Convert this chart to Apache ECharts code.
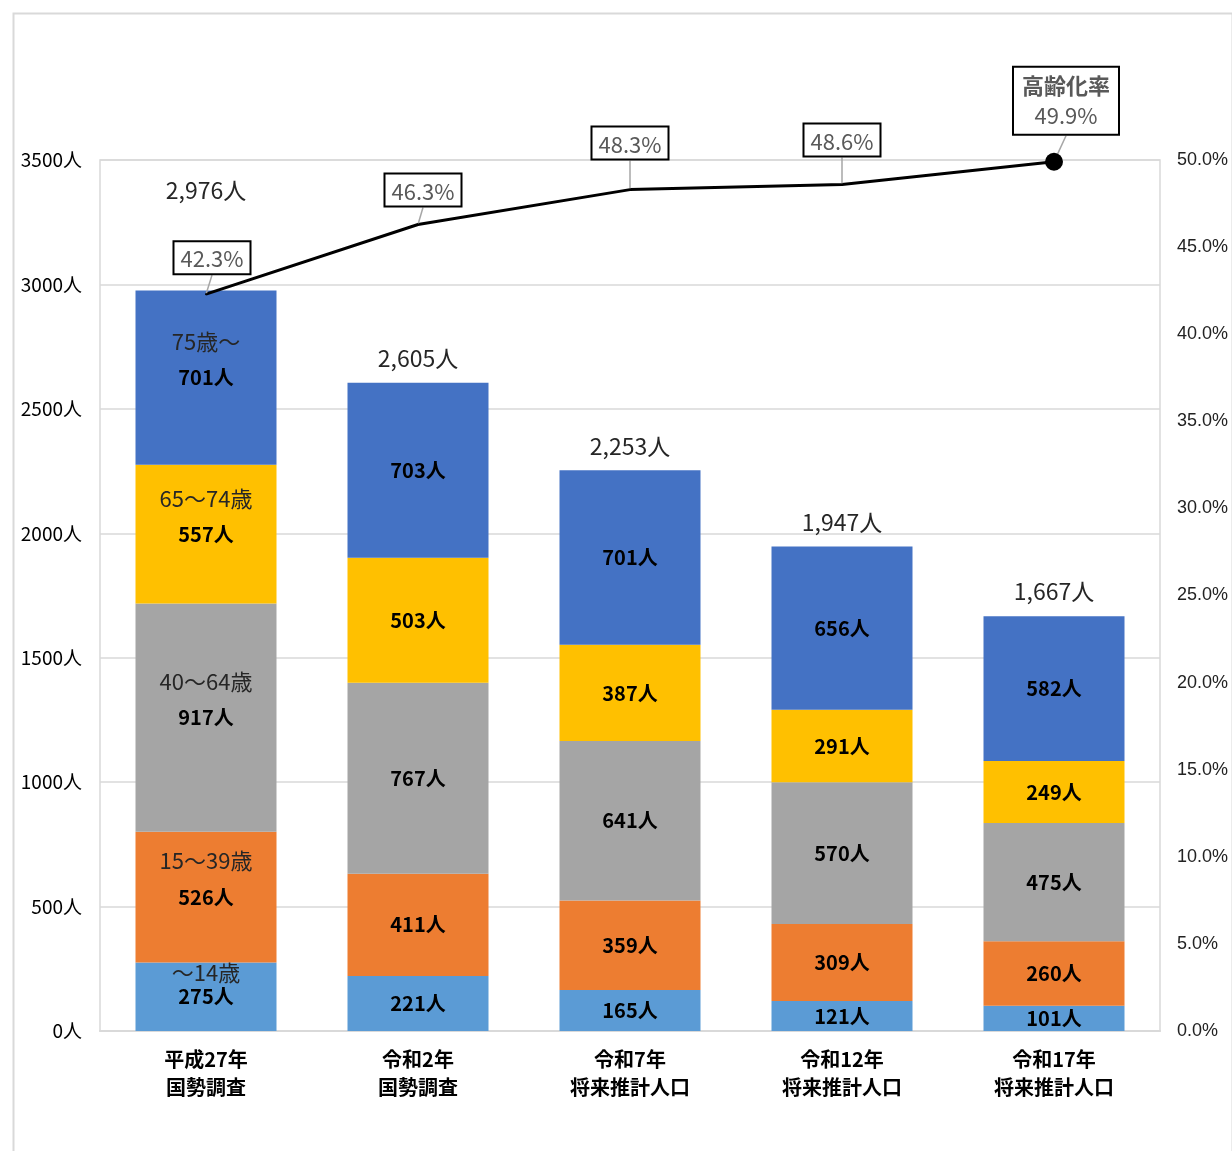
<!DOCTYPE html>
<html><head><meta charset="utf-8">
<script src="https://cdn.jsdelivr.net/npm/echarts@6/dist/echarts.min.js"></script>
<style>html,body{margin:0;padding:0;background:#fff}#c{width:1232px;height:1151px}</style>
</head><body><div id="c"></div>
<script>
const categories = ['平成27年\n国勢調査', '令和2年\n国勢調査', '令和7年\n将来推計人口', '令和12年\n将来推計人口', '令和17年\n将来推計人口'];
const ageNames = ['～14歳', '15～39歳', '40～64歳', '65～74歳', '75歳～'];
const age0_14 = [275, 221, 165, 121, 101];
const age15_39 = [526, 411, 359, 309, 260];
const age40_64 = [917, 767, 641, 570, 475];
const age65_74 = [557, 503, 387, 291, 249];
const age75 = [701, 703, 701, 656, 582];
const totals = [2976, 2605, 2253, 1947, 1667];
const agingRate = [42.3, 46.3, 48.3, 48.6, 49.9];
const leftTicks = [0, 500, 1000, 1500, 2000, 2500, 3000, 3500];

const FONT = '"Noto Sans CJK JP", "Noto Sans", sans-serif';
const colors = ['#5B9BD5', '#ED7D31', '#A5A5A5', '#FFC000', '#4472C4'];
const ageSeries = [age0_14, age15_39, age40_64, age65_74, age75];

const stackSeries = ageSeries.map((arr, si) => ({
  name: ageNames[si],
  type: 'bar',
  stack: 'pop',
  barWidth: 141,
  itemStyle: { color: colors[si] },
  data: arr.map((v, i) => {
    const item = { value: v };
    if (i === 0) {
      const tight = si === 0;
      item.label = {
        formatter: '{n|' + ageNames[si] + '}\n{v|' + v + '人}',
        offset: [0, tight ? -12 : -18],
        rich: {
          n: { fontFamily: FONT, fontSize: 22, fontWeight: 'normal', color: '#262626', lineHeight: tight ? 24 : 36 },
          v: { fontFamily: FONT, fontSize: 20, fontWeight: 'bold', color: '#000', lineHeight: tight ? 24 : 36 }
        }
      };
    }
    return item;
  }),
  label: {
    show: true,
    position: 'inside',
    fontFamily: FONT,
    fontSize: 20,
    fontWeight: 'bold',
    color: '#000',
    formatter: p => p.value + '人'
  },
  z: 2
}));

const totalSeries = {
  name: 'total',
  type: 'bar',
  barWidth: 141,
  barGap: '-100%',
  itemStyle: { color: 'rgba(0,0,0,0)' },
  silent: true,
  z: 1,
  data: totals.map((v, i) => i === 0 ? { value: v, label: { distance: 89 } } : { value: v }),
  label: {
    show: true,
    position: 'top',
    distance: 13,
    fontFamily: FONT,
    fontSize: 23,
    color: '#262626',
    formatter: p => p.value.toLocaleString('en-US') + '人'
  }
};

const shifts = [[6, -15], [5, -13], [0, -25], [0, -23], [12, -14]];
const lineSeries = {
  name: '高齢化率',
  type: 'line',
  yAxisIndex: 1,
  z: 5,
  lineStyle: { color: '#000', width: 3 },
  itemStyle: { color: '#000' },
  symbol: 'circle',
  data: agingRate.map((v, i) => {
    const last = i === agingRate.length - 1;
    const item = { value: v, symbolSize: last ? 18 : 2 };
    if (last) {
      item.label = {
        padding: [3, 8, 3, 8],
        formatter: '{b|高齢化率}\n{v|' + v.toFixed(1) + '%}',
        rich: {
          b: { fontFamily: FONT, fontSize: 22, fontWeight: 'bold', color: '#595959', lineHeight: 30 },
          v: { fontFamily: FONT, fontSize: 22, color: '#595959', lineHeight: 30 }
        }
      };
    }
    return item;
  }),
  label: {
    show: true,
    position: 'top',
    distance: 5,
    fontFamily: FONT,
    fontSize: 22,
    color: '#595959',
    backgroundColor: '#fff',
    borderColor: '#000',
    borderWidth: 2,
    padding: [6, 6, 3, 6],
    formatter: p => p.value.toFixed(1) + '%'
  },
  labelLine: { show: true, lineStyle: { color: '#a6a6a6', width: 1.5 } },
  labelLayout: p => ({ dx: shifts[p.dataIndex][0], dy: shifts[p.dataIndex][1] })
};

const chart = echarts.init(document.getElementById('c'), null, { renderer: 'canvas' });
chart.setOption({
  backgroundColor: '#fff',
  animation: false,
  graphic: [{
    type: 'rect', left: 11, top: 11, shape: { width: 1219, height: 1160 },
    style: { fill: 'none', stroke: '#d9d9d9', lineWidth: 2 }, silent: true, z: -10
  }],
  grid: { left: 100, right: 72, top: 160, bottom: 120, show: true, borderColor: '#d9d9d9', borderWidth: 1.5 },
  xAxis: {
    type: 'category',
    data: categories,
    axisLine: { lineStyle: { color: '#d9d9d9', width: 2 } },
    axisTick: { show: false },
    axisLabel: { fontFamily: FONT, fontSize: 20, fontWeight: 'bold', color: '#000', lineHeight: 28, margin: 14 }
  },
  yAxis: [{
    type: 'value',
    min: leftTicks[0],
    max: leftTicks[leftTicks.length - 1],
    interval: 500,
    axisLine: { show: false },
    axisTick: { show: false },
    splitLine: { lineStyle: { color: '#d9d9d9', width: 1.5 } },
    axisLabel: { fontFamily: FONT, fontSize: 19, color: '#000', margin: 18, formatter: v => v + '人' }
  }, {
    type: 'value',
    min: 0, max: 50, interval: 5,
    position: 'right',
    axisLine: { show: false },
    axisTick: { show: false },
    splitLine: { show: false },
    axisLabel: { fontFamily: '"Liberation Sans", Arial, sans-serif', fontSize: 18, color: '#222', margin: 17, formatter: v => v.toFixed(1) + '%' }
  }],
  series: [...stackSeries, totalSeries, lineSeries]
});
</script></body></html>
